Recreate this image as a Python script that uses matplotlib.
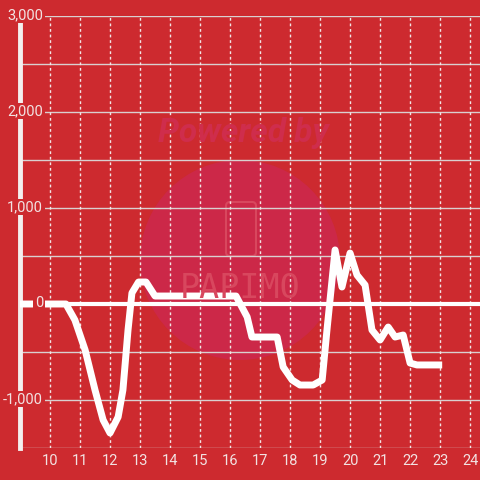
import matplotlib
matplotlib.use("Agg")
import matplotlib.pyplot as plt
from matplotlib.patches import Circle, FancyBboxPatch

plt.rcParams['font.family'] = ['Roboto', 'DejaVu Sans']

BG = "#cd2a2f"

hours = [9.0, 10.53, 10.83, 11.17, 11.5, 11.77, 12.0, 12.27, 12.43, 12.6, 12.73,
         12.95, 13.2, 13.5, 16.2, 16.57, 16.73, 17.57, 17.77, 18.07, 18.33,
         18.77, 19.07, 19.23, 19.5, 19.73, 20.0, 20.23, 20.5, 20.73, 21.0,
         21.27, 21.5, 21.77, 22.0, 22.23, 23.07]
values = [0, 0, -167, -479, -896, -1208, -1344, -1177, -896, -271, 115,
          229, 229, 83, 83, -135, -344, -344, -656, -792, -844,
          -844, -792, -271, 563, 177, 531, 302, 198, -271, -375,
          -240, -344, -323, -615, -635, -635]

x_ticks = list(range(10, 25))
y_ticks = [-1000, 0, 1000, 2000, 3000]
y_grid = [-1500, -500, 500, 1500, 2500, 3000]

fig = plt.figure(figsize=(4.8, 4.8), dpi=100, facecolor=BG)
ax = fig.add_axes([20 / 480, 32 / 480, 460 / 480, 432 / 480], facecolor=BG)
ax.set_xlim(9, 24.33)
ax.set_ylim(-1500, 3000)

# watermark (display coords, origin bottom-left)
ax.add_patch(Circle((240, 220), 100, transform=None, facecolor="#cc2848",
                    edgecolor="none", zorder=0))
fig.text(243 / 480, 1 - 133 / 480, "Powered by", color="#cf2d4c", fontsize=24,
         fontweight="bold", style="italic", ha="center", va="center", zorder=0)
fig.text(240 / 480, 1 - 288 / 480, "PAPIMO", color="#d8475e", fontsize=24,
         ha="center", va="center", zorder=0, family="DejaVu Sans Mono")
ax.add_patch(FancyBboxPatch((226, 480 - 256), 30, 54, transform=None,
                            boxstyle="round,pad=0,rounding_size=4",
                            facecolor="none", edgecolor="#d8475e", lw=1.5, zorder=0))

for v in y_grid + [-1000, 1000, 2000]:
    ax.axhline(v, color="#d9d0d0", lw=1, zorder=1)
for h in x_ticks:
    ax.axvline(h, color="#f2e6e6", lw=1, ls=(0, (2, 2)), zorder=1)
ax.axhline(0, color="white", lw=3, zorder=2)
ax.plot([9, 9], [-1500, 2920], color="#f4efef", lw=3.5, zorder=2, clip_on=False)

ax.plot(hours, values, color="white", lw=5, solid_joinstyle="round",
        solid_capstyle="butt", zorder=3)

for s in ax.spines.values():
    s.set_visible(False)
ax.set_xticks([])
ax.set_yticks([])

for h in x_ticks:
    ax.text(h, -1500 - 13 * 1000 / 96, str(h), color="#f2e2e2", fontsize=10.5,
            ha="center", va="center", clip_on=False)
for v in y_ticks:
    ax.text(9.77, v + 10, f"{v:,}", color="#f2e2e2", fontsize=10.5,
            ha="right", va="center", clip_on=False, zorder=4,
            bbox=dict(facecolor=BG, edgecolor="none", pad=1))

fig.savefig("out.png", dpi=100, facecolor=BG)
